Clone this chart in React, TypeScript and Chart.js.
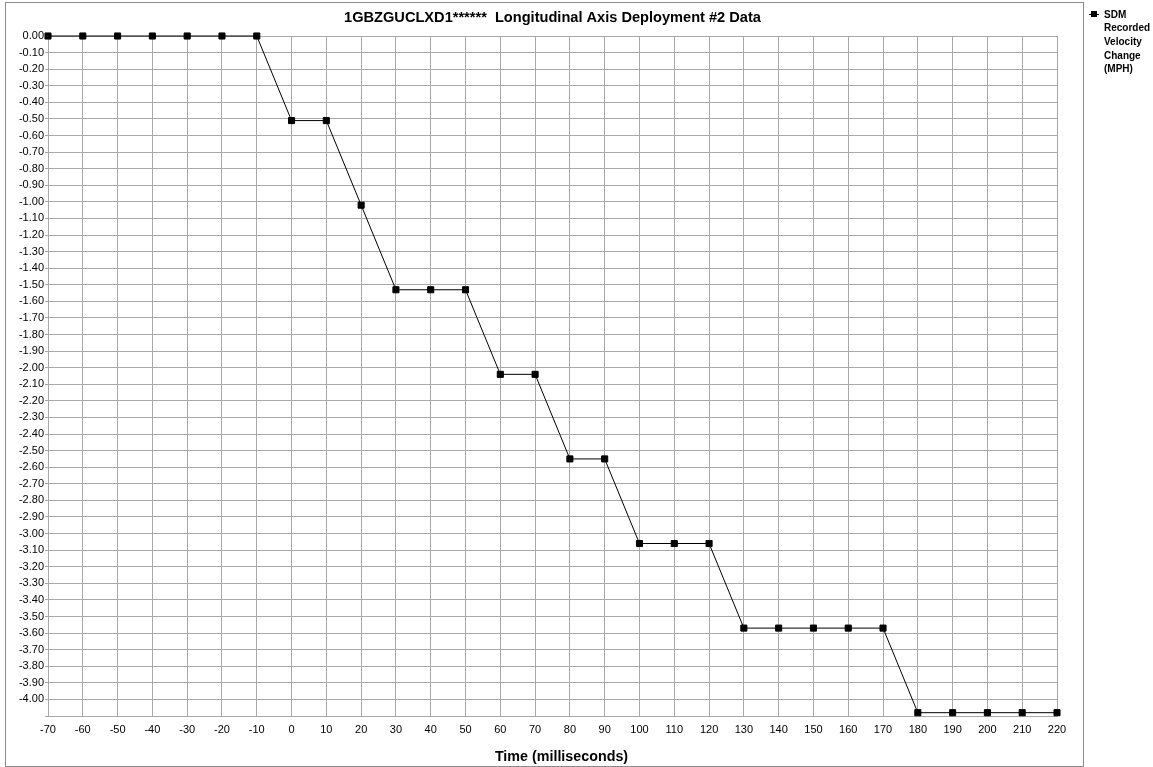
import React, { useEffect, useRef } from "react";
import { Chart, registerables } from "chart.js";

Chart.register(...registerables);

const chartTitle = "1GBZGUCLXD1******  Longitudinal Axis Deployment #2 Data";
const xAxisTitle = "Time (milliseconds)";
const legendLines = ["SDM", "Recorded", "Velocity", "Change", "(MPH)"];

const timeMs = [
  -70, -60, -50, -40, -30, -20, -10, 0, 10, 20, 30, 40, 50, 60, 70, 80, 90,
  100, 110, 120, 130, 140, 150, 160, 170, 180, 190, 200, 210, 220,
];
const velocityChange = [
  0, 0, 0, 0, 0, 0, 0, -0.51, -0.51, -1.02, -1.53, -1.53, -1.53, -2.04, -2.04,
  -2.55, -2.55, -3.06, -3.06, -3.06, -3.57, -3.57, -3.57, -3.57, -3.57, -4.08,
  -4.08, -4.08, -4.08, -4.08,
];

const xMin = -70;
const xMax = 220;
const xStep = 10;
const yMin = -4.1;
const yMax = 0;
const yStep = 0.1;
const yLastLabel = -4.0;

const FONT = "'Liberation Sans', Arial, sans-serif";
const GRID = "#a8a8a8";

const decorPlugin = {
  id: "decor",
  afterDraw(chart: any) {
    const ctx = chart.ctx as CanvasRenderingContext2D;
    const area = chart.chartArea;
    ctx.save();
    // outer frame
    ctx.strokeStyle = "#8c8c8c";
    ctx.lineWidth = 1;
    ctx.strokeRect(5.5, 2.5, 1078, 764);
    // title
    ctx.fillStyle = "#000";
    ctx.textAlign = "center";
    ctx.textBaseline = "middle";
    ctx.font = `bold 14.6px ${FONT}`;
    const cx = (area.left + area.right) / 2;
    ctx.fillText(chartTitle, cx, 18);
    ctx.font = `bold 14.3px ${FONT}`;
    ctx.fillText(xAxisTitle, cx + 9, 757);
    // legend
    const ly = 14;
    ctx.strokeStyle = "#000";
    ctx.beginPath();
    ctx.moveTo(1089, ly + 0.5);
    ctx.lineTo(1099, ly + 0.5);
    ctx.stroke();
    ctx.fillRect(1091, ly - 3, 6, 6);
    ctx.textAlign = "left";
    ctx.textBaseline = "alphabetic";
    ctx.font = `bold 10px ${FONT}`;
    legendLines.forEach((t, i) => {
      ctx.fillText(t, 1104, 17.5 + i * 13.7);
    });
    ctx.restore();
  },
};

export default function App() {
  const canvasRef = useRef<HTMLCanvasElement | null>(null);

  useEffect(() => {
    const canvas = canvasRef.current;
    if (!canvas) return;
    const points = timeMs.map((x, i) => ({ x, y: velocityChange[i] }));
    const chart = new Chart(canvas, {
      type: "line",
      data: {
        datasets: [
          {
            label: legendLines.join(" "),
            data: points,
            borderColor: "#000",
            backgroundColor: "#000",
            borderWidth: 1,
            pointStyle: "rect",
            pointRadius: 4.3,
            pointBorderWidth: 1,
            pointBackgroundColor: "#000",
            pointBorderColor: "#000",
            tension: 0,
            fill: false,
            clip: false,
          } as any,
        ],
      },
      options: {
        responsive: false,
        animation: false,
        layout: { padding: { left: 5, top: 36, right: 96, bottom: 0 } },
        plugins: {
          legend: { display: false },
          title: { display: false },
          tooltip: { enabled: false },
        },
        scales: {
          x: {
            type: "linear",
            min: xMin,
            max: xMax,
            afterFit: (s: any) => {
              s.height = 51;
            },
            ticks: {
              stepSize: xStep,
              autoSkip: false,
              maxRotation: 0,
              padding: 7,
              color: "#000",
              font: { family: FONT, size: 11 },
              callback: (v: any) => String(v),
            },
            grid: {
              color: GRID,
              lineWidth: 1,
              drawTicks: false,
            },
            border: { color: GRID, width: 1 },
          },
          y: {
            type: "linear",
            min: yMin,
            max: yMax,
            afterFit: (s: any) => {
              s.width = 43;
            },
            ticks: {
              stepSize: yStep,
              autoSkip: false,
              padding: 1,
              color: "#000",
              font: { family: FONT, size: 11 },
              callback: (v: any) => {
                const n = Number(v);
                if (n < yLastLabel - 0.05) return "";
                const s = n.toFixed(2);
                return s === "-0.00" ? "0.00" : s;
              },
            },
            grid: {
              color: GRID,
              lineWidth: 1,
              drawTicks: true,
              tickLength: 3,
            },
            border: { color: GRID, width: 1 },
          },
        },
      },
      plugins: [decorPlugin],
    });
    return () => chart.destroy();
  }, []);

  return (
    <div
      style={{
        position: "fixed",
        left: 0,
        top: 0,
        width: 1153,
        height: 767,
        background: "#fff",
      }}
    >
      <canvas
        ref={canvasRef}
        width={1153}
        height={767}
        style={{ display: "block", width: 1153, height: 767 }}
      />
    </div>
  );
}
